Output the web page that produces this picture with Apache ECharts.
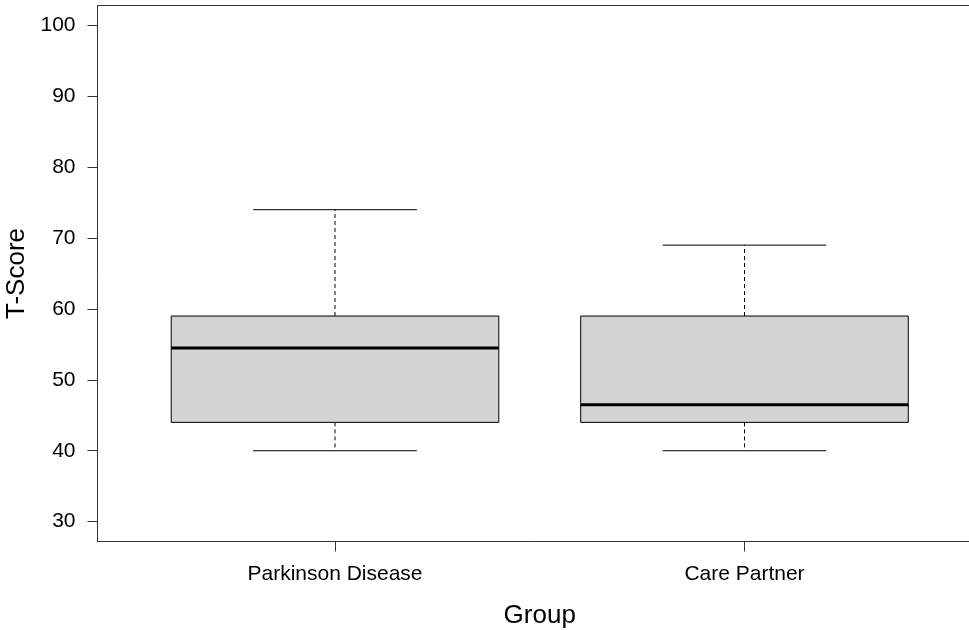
<!DOCTYPE html>
<html>
<head>
<meta charset="utf-8">
<script src="https://cdn.jsdelivr.net/npm/echarts@6/dist/echarts.min.js"></script>
<style>
html,body{margin:0;padding:0;background:#fff;}
#chart{width:969px;height:630px;}
</style>
</head>
<body>
<div id="chart"></div>
<script>
const categories = ['Parkinson Disease', 'Care Partner'];
const lowerWhisker = [40, 40];
const q1 = [44, 44];
const median = [54.5, 46.5];
const q3 = [59, 59];
const upperWhisker = [74, 69];
const yTicks = [30, 40, 50, 60, 70, 80, 90, 100];

const FONT = 'Liberation Sans, Arial, sans-serif';
const data = categories.map((c, i) => [i + 1, lowerWhisker[i], q1[i], median[i], q3[i], upperWhisker[i]]);

function renderItem(params, api) {
  const x = api.value(0);
  const lw = api.coord([x, api.value(1)]);
  const b1 = api.coord([x, api.value(2)]);
  const md = api.coord([x, api.value(3)]);
  const b3 = api.coord([x, api.value(4)]);
  const uw = api.coord([x, api.value(5)]);
  const boxW = api.size([0.8, 0])[0];
  const capW = boxW / 2;
  const cx = lw[0];
  const black = '#000';
  return {
    type: 'group',
    children: [
      { type: 'line', shape: { x1: cx, y1: b3[1], x2: cx, y2: uw[1] }, style: { stroke: black, lineWidth: 1, lineDash: [4, 3] } },
      { type: 'line', shape: { x1: cx, y1: b1[1], x2: cx, y2: lw[1] }, style: { stroke: black, lineWidth: 1, lineDash: [4, 3] } },
      { type: 'line', shape: { x1: cx - capW / 2, y1: uw[1], x2: cx + capW / 2, y2: uw[1] }, style: { stroke: black, lineWidth: 1 } },
      { type: 'line', shape: { x1: cx - capW / 2, y1: lw[1], x2: cx + capW / 2, y2: lw[1] }, style: { stroke: black, lineWidth: 1 } },
      { type: 'rect', shape: { x: cx - boxW / 2, y: b3[1], width: boxW, height: b1[1] - b3[1] }, style: { fill: '#D3D3D3', stroke: black, lineWidth: 1 } },
      { type: 'line', shape: { x1: cx - boxW / 2, y1: md[1], x2: cx + boxW / 2, y2: md[1] }, style: { stroke: black, lineWidth: 3 } }
    ]
  };
}

const chart = echarts.init(document.getElementById('chart'), null, { renderer: 'canvas' });
chart.setOption({
  animation: false,
  backgroundColor: '#fff',
  grid: { left: 97.5, top: 5.5, bottom: 88.5, right: -13, containLabel: false, outerBoundsMode: 'none', show: false },
  xAxis: [{
    type: 'value', min: 0.42, max: 2.58, position: 'bottom',
    name: 'Group', nameLocation: 'middle', nameGap: 61,
    nameTextStyle: { fontFamily: FONT, fontSize: 26, color: '#000' },
    splitLine: { show: false },
    axisLine: { show: true, lineStyle: { color: '#333', width: 1 } },
    axisTick: { show: true, length: 10, customValues: [1, 2], lineStyle: { color: '#333' } },
    axisLabel: { show: true, customValues: [1, 2], margin: 22, fontFamily: FONT, fontSize: 21, color: '#000',
      formatter: v => categories[Math.round(v) - 1] || '' }
  }, {
    type: 'value', min: 0.42, max: 2.58, position: 'top',
    splitLine: { show: false },
    axisLine: { show: true, lineStyle: { color: '#333', width: 1 } },
    axisTick: { show: false },
    axisLabel: { show: false }
  }],
  yAxis: {
    type: 'value', min: 27.2, max: 102.8,
    name: 'T-Score', nameLocation: 'middle', nameGap: 61, nameRotate: 90,
    nameTextStyle: { fontFamily: FONT, fontSize: 26, color: '#000' },
    splitLine: { show: false },
    axisLine: { show: true, lineStyle: { color: '#333', width: 1 } },
    axisTick: { show: true, length: 10, customValues: yTicks, lineStyle: { color: '#333' } },
    axisLabel: { show: true, customValues: yTicks, margin: 22, fontFamily: FONT, fontSize: 21, color: '#000' }
  },
  series: [{
    type: 'custom',
    renderItem: renderItem,
    data: data,
    xAxisIndex: 0,
    encode: { x: 0, y: [1, 2, 3, 4, 5] },
    clip: false
  }]
});
</script>
</body>
</html>
